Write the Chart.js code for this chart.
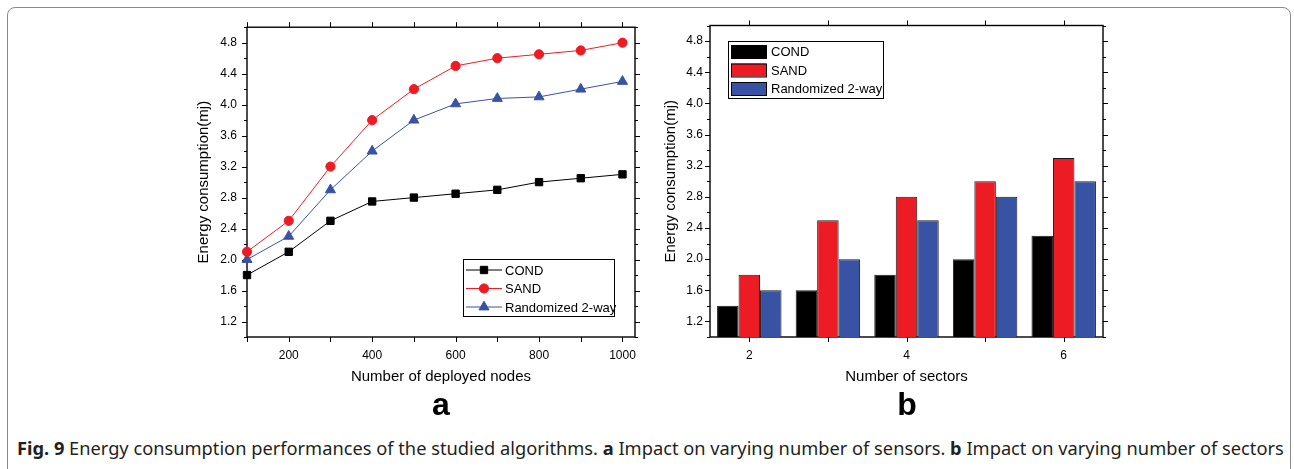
<!DOCTYPE html>
<html>
<head>
<meta charset="utf-8">
<script src="https://cdn.jsdelivr.net/npm/chart.js@4.4.1/dist/chart.umd.min.js"></script>
<style>
  body { margin: 0; background: #fff; width: 1294px; height: 469px; overflow: hidden; position: relative; }
  #frame { position: absolute; left: 7px; top: 7px; width: 1282px; height: 520px; border: 1.5px solid #8a8a8a; border-radius: 8px; }
  canvas { position: absolute; }
  #chartA { left: 180px; top: 10px; }
  #chartB { left: 650px; top: 10px; }
  .tag { position: absolute; top: 386px; width: 60px; text-align: center; font: bold 32px "Liberation Sans", Arial, sans-serif; color: #000; }
  #caption { position: absolute; left: 17px; top: 435px; white-space: nowrap; font-family: "Noto Sans", sans-serif; font-size: 16px; color: #231f20; }
</style>
</head>
<body>
<div id="frame"></div>
<canvas id="chartA" width="470" height="385"></canvas>
<canvas id="chartB" width="470" height="385"></canvas>
<div class="tag" style="left:411px">a</div>
<div class="tag" style="left:877px">b</div>
<div id="caption"><b>Fig. 9</b> Energy consumption performances of the studied algorithms. <b>a</b> Impact on varying number of sensors. <b>b</b> Impact on varying number of sectors</div>

<script>
// data, chart a
const nodes = [100, 200, 300, 400, 500, 600, 700, 800, 900, 1000];
const condA = [1.8, 2.1, 2.5, 2.75, 2.8, 2.85, 2.9, 3.0, 3.05, 3.1];
const sandA = [2.1, 2.5, 3.2, 3.8, 4.2, 4.5, 4.6, 4.65, 4.7, 4.8];
const randA = [2.0, 2.3, 2.9, 3.4, 3.8, 4.01, 4.08, 4.1, 4.2, 4.3];

// data, chart b
const sectors = ['2', '3', '4', '5', '6'];
const condB = [1.4, 1.6, 1.8, 2.0, 2.3];
const sandB = [1.8, 2.5, 2.8, 3.0, 3.3];
const randB = [1.6, 2.0, 2.5, 2.8, 3.0];

// tick labels
const yLabels = [1.2, 1.6, 2.0, 2.4, 2.8, 3.2, 3.6, 4.0, 4.4, 4.8];
const xLabelsA = [200, 400, 600, 800, 1000];
const xLabelsB = ['2', '4', '6'];

const seriesNames = ['COND', 'SAND', 'Randomized 2-way'];
const RED = '#ed1c24';
const BLUE = '#3953a4';
const tickFont = { family: '"Liberation Sans", Arial, sans-serif', size: 12 };
const titleFont = { family: '"Liberation Sans", Arial, sans-serif', size: 15 };

function pairs(xs, ys) {
  return xs.map((x, i) => ({ x: x, y: ys[i] }));
}

function yScale(width, labelPad, titlePad) {
  return {
    min: 1, max: 5,
    ticks: {
      stepSize: 0.2, autoSkip: false, padding: labelPad, color: '#000', font: tickFont,
      callback: v => yLabels.includes(Math.round(v * 10) / 10) ? v.toFixed(1) : ''
    },
    grid: { display: false, drawTicks: false },
    border: { display: false },
    title: { display: true, text: 'Energy consumption(mj)', color: '#000', font: titleFont, padding: titlePad },
    afterFit: s => { s.width = width; }
  };
}

// box + outward ticks on four sides
const axisFrame = {
  id: 'axisFrame',
  beforeDatasetsDraw(chart) {
    const { ctx, chartArea: a, scales: { x, y } } = chart;
    ctx.save();
    ctx.strokeStyle = '#000';
    ctx.lineWidth = 1;
    ctx.beginPath();
    y.ticks.forEach(t => {
      const py = Math.round(y.getPixelForValue(t.value)) + 0.5;
      const len = t.label ? 5 : 3;
      ctx.moveTo(a.left - len, py); ctx.lineTo(a.left, py);
      ctx.moveTo(a.right, py); ctx.lineTo(a.right + len, py);
    });
    x.ticks.forEach((t, i) => {
      const px = Math.round(x.getPixelForTick(i)) + 0.5;
      ctx.moveTo(px, a.bottom); ctx.lineTo(px, a.bottom + 5);
      ctx.moveTo(px, a.top); ctx.lineTo(px, a.top - 5);
    });
    ctx.stroke();
    ctx.lineWidth = 1.4;
    ctx.strokeRect(a.left, a.top, a.right - a.left, a.bottom - a.top);
    ctx.restore();
  }
};

// legend box inside the plot
const boxLegend = {
  id: 'boxLegend',
  afterDraw(chart, args, opts) {
    const { ctx, chartArea: a } = chart;
    const w = opts.width, h = opts.height;
    const left = opts.fromRight != null ? a.right - opts.fromRight - w : a.left + opts.fromLeft;
    const top = opts.fromBottom != null ? a.bottom - opts.fromBottom - h : a.top + opts.fromTop;
    ctx.save();
    ctx.fillStyle = '#fff';
    ctx.fillRect(left, top, w, h);
    ctx.strokeStyle = '#000';
    ctx.lineWidth = 1;
    ctx.strokeRect(Math.round(left) + 0.5, Math.round(top) + 0.5, w, h);
    ctx.font = '13px "Liberation Sans", Arial, sans-serif';
    ctx.textBaseline = 'middle';
    chart.data.datasets.forEach((ds, i) => {
      const cy = top + 11 + i * 18.5;
      if (opts.kind === 'line') {
        ctx.strokeStyle = ds.borderColor;
        ctx.lineWidth = 1;
        ctx.beginPath();
        ctx.moveTo(left + 3, cy); ctx.lineTo(left + 39, cy);
        ctx.stroke();
        ctx.fillStyle = ds.pointBackgroundColor;
        ctx.strokeStyle = ds.pointBackgroundColor;
        Chart.helpers.drawPoint(ctx, { pointStyle: ds.pointStyle, radius: ds.pointRadius, rotation: 0, borderWidth: 1 }, left + 21, cy);
        ctx.fillStyle = '#000';
        ctx.fillText(ds.label, left + 42, cy + 1);
      } else {
        ctx.fillStyle = ds.backgroundColor;
        ctx.fillRect(left + 3, cy - 6.5, 35, 13);
        ctx.strokeStyle = '#000';
        ctx.strokeRect(left + 3.5, cy - 6, 35, 13);
        ctx.fillStyle = '#000';
        ctx.fillText(ds.label, left + 43, cy + 1);
      }
    });
    ctx.restore();
  }
};

function lineSet(label, values, color, style, radius) {
  return {
    label: label,
    data: pairs(nodes, values),
    borderColor: color,
    borderWidth: 1,
    pointStyle: style,
    pointRadius: radius,
    pointBackgroundColor: color,
    pointBorderColor: color,
    pointBorderWidth: 1,
    clip: false
  };
}

new Chart(document.getElementById('chartA'), {
  type: 'line',
  plugins: [axisFrame, boxLegend],
  data: {
    datasets: [
      lineSet(seriesNames[0], condA, '#000', 'rect', 5.2),
      lineSet(seriesNames[1], sandA, RED, 'circle', 4.6),
      lineSet(seriesNames[2], randA, BLUE, 'triangle', 5.8)
    ]
  },
  options: {
    responsive: false,
    animation: false,
    layout: { padding: { top: 13, right: 15, left: 0, bottom: 0 } },
    plugins: {
      legend: { display: false },
      tooltip: { enabled: false },
      boxLegend: { kind: 'line', fromRight: 21, fromBottom: 21, width: 151, height: 57 }
    },
    scales: {
      x: {
        type: 'linear', min: 100, max: 1030,
        ticks: {
          stepSize: 100, includeBounds: false, autoSkip: false, maxRotation: 0, padding: 11,
          color: '#000', font: tickFont,
          callback: v => xLabelsA.includes(v) ? String(v) : ''
        },
        grid: { display: false, drawTicks: false },
        border: { display: false },
        title: { display: true, text: 'Number of deployed nodes', color: '#000', font: titleFont, padding: 9 },
        afterFit: s => { s.height = 58; }
      },
      y: yScale(67, 10, 15)
    }
  }
});

function barSet(label, values, color) {
  return {
    label: label,
    data: values,
    backgroundColor: color,
    borderColor: '#1a1a1a',
    borderWidth: 1,
    categoryPercentage: 0.82,
    barPercentage: 1.0
  };
}

new Chart(document.getElementById('chartB'), {
  type: 'bar',
  plugins: [axisFrame, boxLegend],
  data: {
    labels: sectors,
    datasets: [
      barSet(seriesNames[0], condB, '#000'),
      barSet(seriesNames[1], sandB, RED),
      barSet(seriesNames[2], randB, BLUE)
    ]
  },
  options: {
    responsive: false,
    animation: false,
    layout: { padding: { top: 15.5, right: 17, left: 0, bottom: 0 } },
    plugins: {
      legend: { display: false },
      tooltip: { enabled: false },
      boxLegend: { kind: 'bar', fromLeft: 18, fromTop: 15, width: 155, height: 57 }
    },
    scales: {
      x: {
        ticks: {
          autoSkip: false, maxRotation: 0, padding: 11, color: '#000', font: tickFont,
          callback: (v, i) => xLabelsB.includes(sectors[i]) ? sectors[i] : ''
        },
        grid: { display: false, drawTicks: false },
        border: { display: false },
        title: { display: true, text: 'Number of sectors', color: '#000', font: titleFont, padding: 9 },
        afterFit: s => { s.height = 58; }
      },
      y: yScale(60, 7, 12)
    }
  }
});

// stretch caption to the measured width of the original line
const cap = document.getElementById('caption');
cap.style.fontSize = (16 * 1267 / cap.offsetWidth).toFixed(2) + 'px';
</script>
</body>
</html>
